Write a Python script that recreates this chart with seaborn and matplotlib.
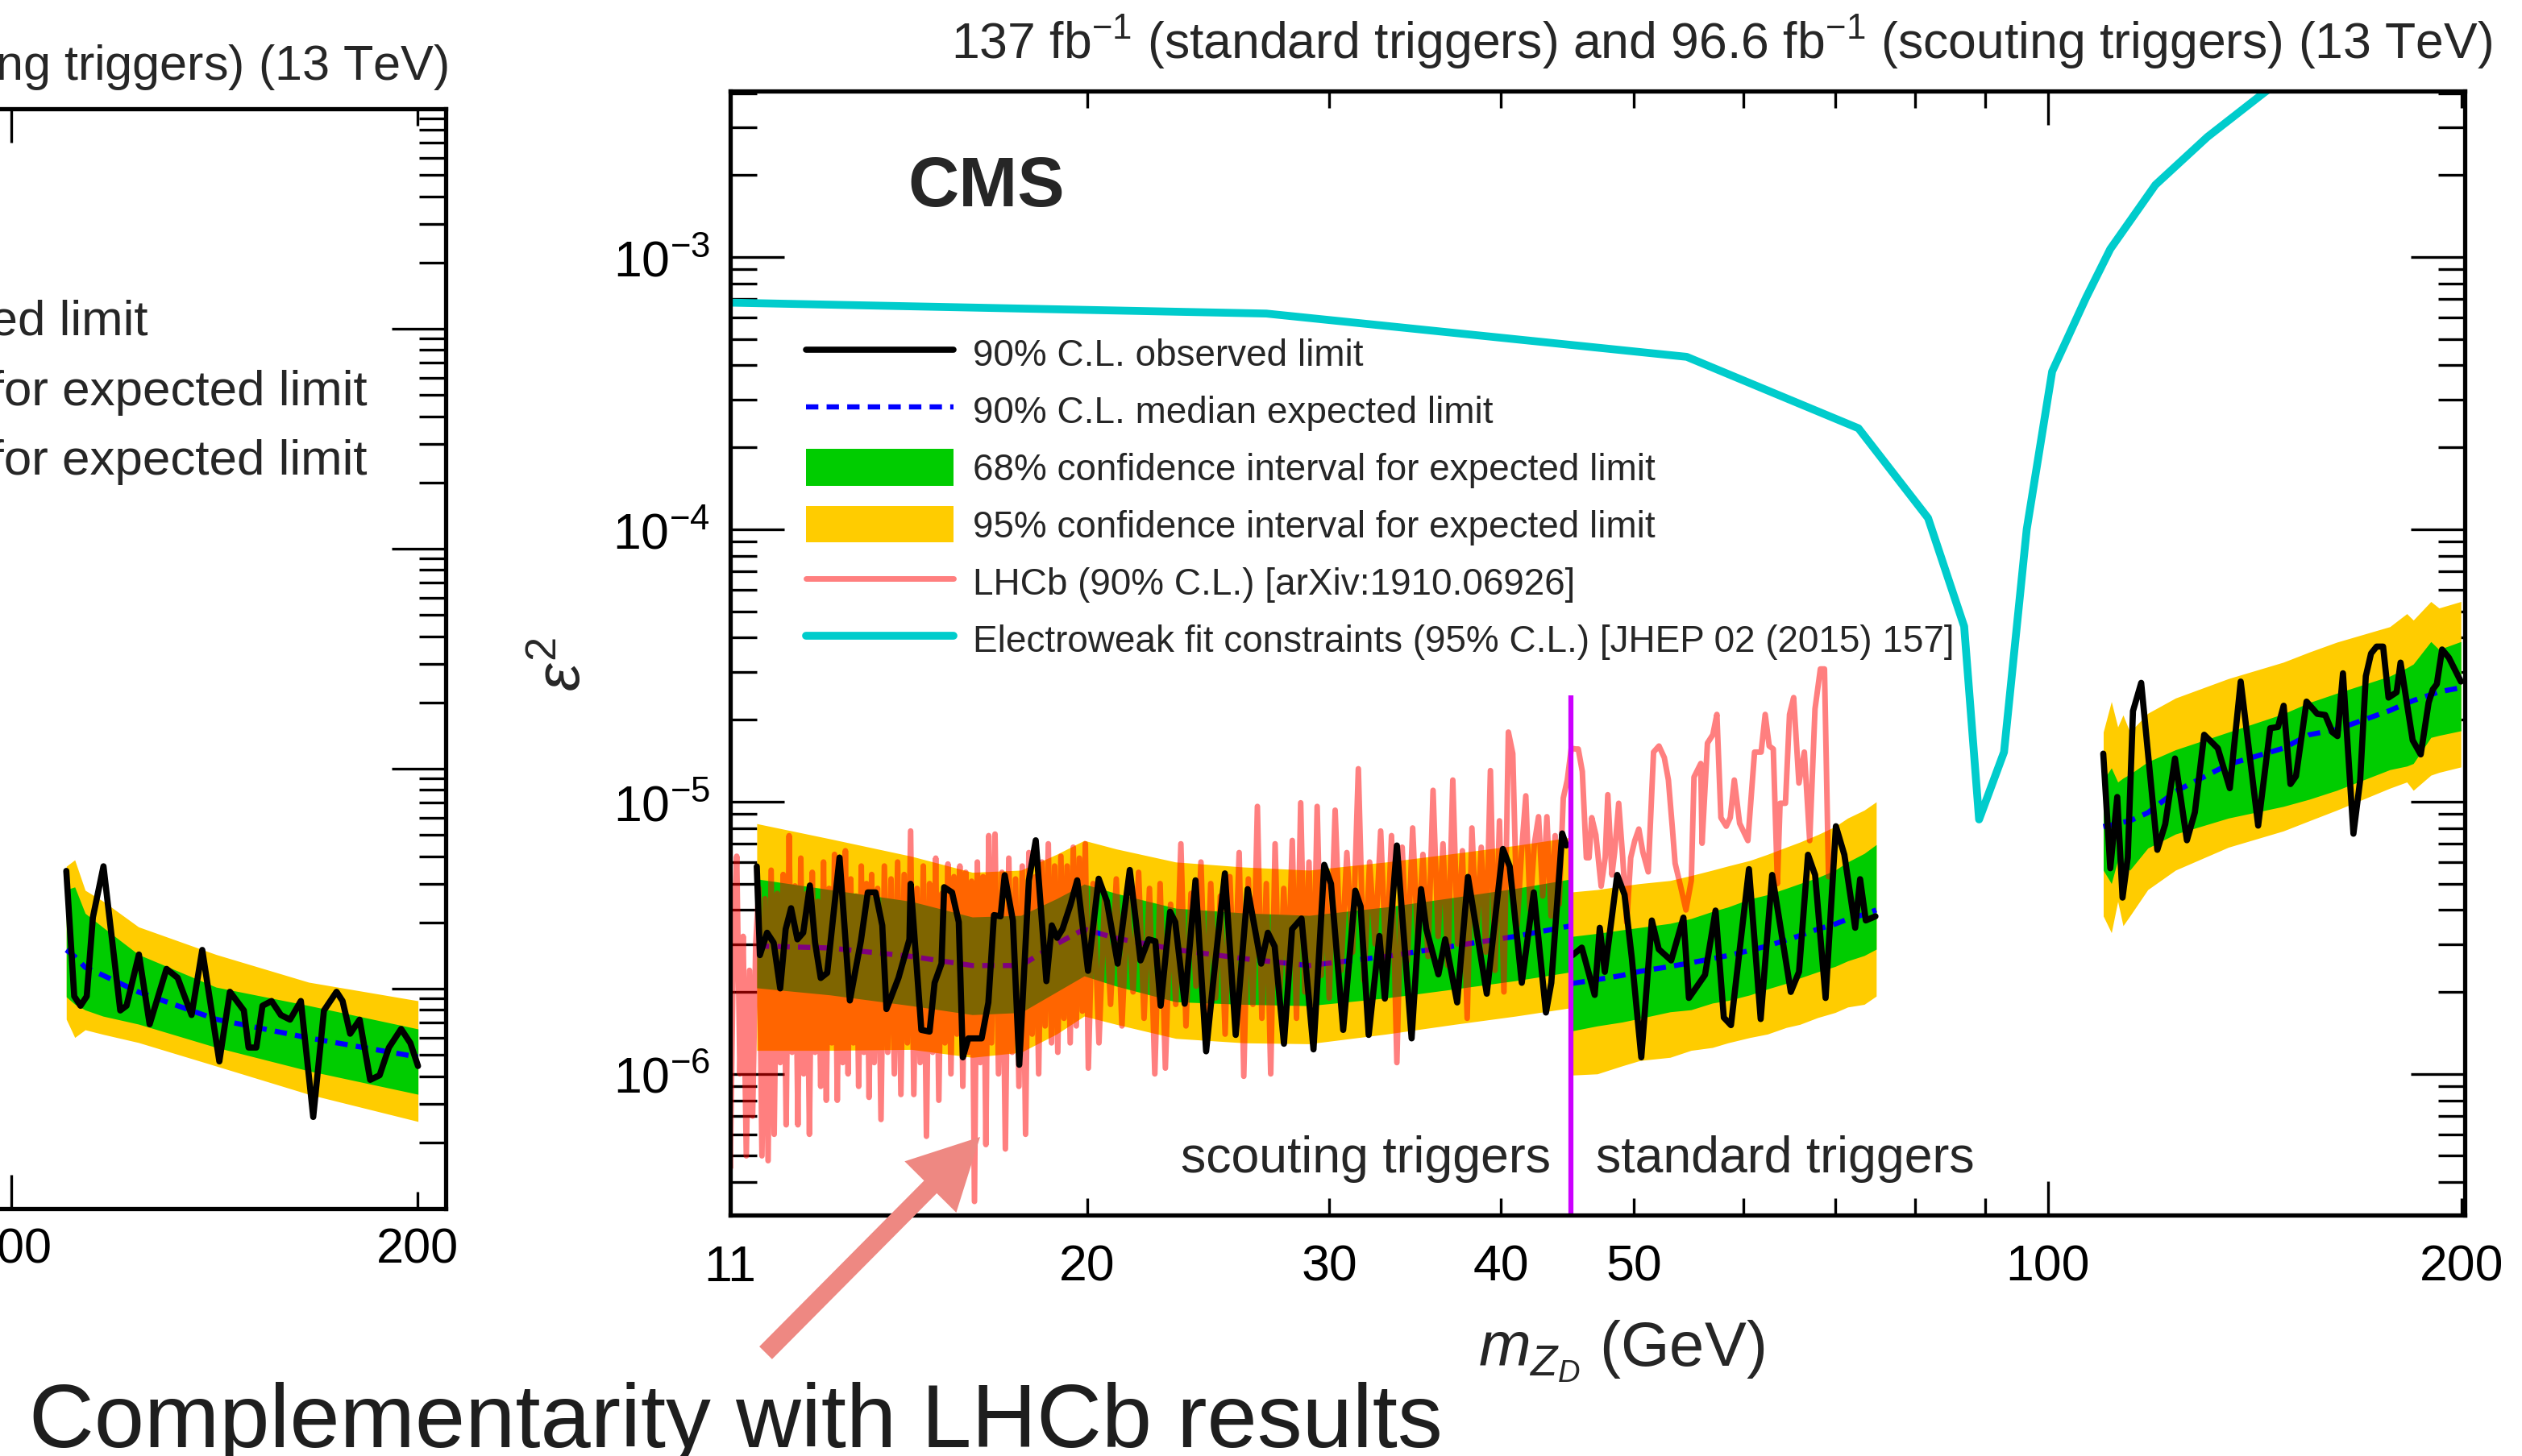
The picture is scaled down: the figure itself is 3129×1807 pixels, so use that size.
import numpy as np
import pandas as pd
import matplotlib
matplotlib.use("Agg")
import matplotlib.pyplot as plt
from matplotlib.patches import Patch, FancyArrowPatch
from matplotlib.ticker import FixedLocator, FuncFormatter, LogLocator, NullFormatter
import seaborn as sns

UNIT = 1e-6  # eps^2 lists of the main panel are given in units of 1e-6

# ---------------- main panel: scouting triggers (11.5-45 GeV) ----------------
scout_band_mass = [11.5, 13.0, 14.9, 16.5, 17.9, 19.0, 19.9, 21.0, 23.2, 26.0, 29.0, 33.0, 37.0, 41.0, 45.0]
scout_exp   = [2.95, 2.90, 2.70, 2.50, 2.50, 3.00, 3.40, 3.15, 2.86, 2.65, 2.50, 2.70, 2.95, 3.20, 3.50]
scout_g_lo  = [2.07, 1.95, 1.78, 1.65, 1.68, 2.00, 2.29, 2.10, 1.84, 1.80, 1.78, 1.90, 2.05, 2.20, 2.37]
scout_g_hi  = [5.20, 4.75, 4.30, 3.77, 3.82, 4.40, 4.98, 4.60, 4.06, 3.90, 3.82, 4.10, 4.45, 4.80, 5.20]
scout_y_lo  = [1.22, 1.22, 1.23, 1.15, 1.20, 1.40, 1.63, 1.52, 1.35, 1.30, 1.29, 1.40, 1.52, 1.63, 1.75]
scout_y_hi  = [8.30, 7.30, 6.30, 5.50, 5.60, 6.40, 7.20, 6.70, 6.00, 5.75, 5.60, 6.00, 6.45, 6.90, 7.40]

scout_obs_mass = [11.50, 11.56, 11.70, 11.83, 11.96, 12.07, 12.18, 12.31, 12.43, 12.57, 12.68, 12.80,
                  12.94, 13.21, 13.44, 13.69, 13.85, 14.03, 14.19, 14.29, 14.58, 14.85, 14.88, 15.15,
                  15.36, 15.49, 15.67, 15.74, 15.95, 16.13, 16.24, 16.39, 16.76, 16.95, 17.11, 17.30,
                  17.42, 17.66, 17.85, 18.14, 18.35, 18.68, 18.85, 19.02, 19.19, 19.45, 19.67, 20.03,
                  20.39, 20.67, 21.05, 21.48, 21.87, 22.17, 22.42, 22.62, 22.98, 23.18, 23.55, 23.98,
                  24.41, 24.74, 25.19, 25.65, 26.17, 26.77, 27.07, 27.38, 27.81, 28.19, 28.64, 29.22,
                  29.75, 30.09, 30.71, 31.34, 31.62, 32.05, 32.63, 32.93, 33.60, 34.44, 34.99, 35.30,
                  36.02, 36.43, 37.17, 37.85, 39.06, 40.13, 40.59, 41.42, 42.26, 43.13, 43.52, 44.32,
                  44.62]
scout_obs = [5.78, 2.73, 3.30, 3.03, 2.06, 3.40, 4.06, 3.12, 3.30, 4.92, 3.03, 2.25,
             2.35, 6.23, 1.86, 3.07, 4.64, 4.64, 3.51, 1.73, 2.25, 3.12, 4.99, 1.45,
             1.43, 2.16, 2.54, 4.85, 4.64, 3.61, 1.15, 1.35, 1.35, 1.83, 3.83, 3.79,
             5.37, 3.66, 1.08, 5.14, 7.21, 2.19, 3.51, 3.16, 3.40, 4.18, 5.14, 2.39,
             5.21, 4.31, 2.54, 5.61, 2.61, 3.12, 3.07, 1.78, 3.94, 3.61, 1.81, 5.14,
             1.21, 2.35, 5.45, 1.39, 4.77, 2.54, 3.30, 2.94, 1.29, 3.40, 3.72, 1.23,
             5.86, 4.99, 1.45, 4.71, 4.12, 1.39, 3.21, 1.89, 6.90, 1.35, 4.77, 3.40,
             2.32, 3.12, 1.83, 5.29, 1.97, 6.70, 5.78, 2.16, 4.64, 1.68, 2.16, 7.64,
             6.90]

# ---------------- main panel: standard triggers (45-75 GeV) ----------------
std_band_mass = [45.1, 47.0, 49.0, 50.5, 53.1, 55.0, 57.0, 58.5, 60.7, 62.5, 64.5, 66.0, 68.0, 70.0, 71.5, 73.5, 75.0]
std_exp  = [2.15, 2.22, 2.30, 2.38, 2.48, 2.56, 2.65, 2.72, 2.84, 2.95, 3.10, 3.22, 3.40, 3.55, 3.70, 3.85, 4.00]
std_g_lo = [1.44, 1.50, 1.55, 1.60, 1.69, 1.72, 1.82, 1.86, 1.95, 2.05, 2.15, 2.25, 2.37, 2.48, 2.60, 2.72, 2.87]
std_g_hi = [3.20, 3.28, 3.38, 3.45, 3.57, 3.72, 3.95, 4.10, 4.39, 4.55, 4.80, 5.00, 5.26, 5.60, 6.00, 6.45, 6.95]
std_y_lo = [0.99, 1.00, 1.07, 1.12, 1.15, 1.22, 1.25, 1.30, 1.36, 1.40, 1.48, 1.52, 1.61, 1.68, 1.76, 1.80, 1.93]
std_y_hi = [4.66, 4.75, 4.90, 5.00, 5.13, 5.35, 5.60, 5.80, 6.08, 6.40, 6.80, 7.10, 7.56, 8.10, 8.70, 9.30, 9.98]

std_obs_mass = [45.1, 45.8, 46.8, 47.2, 47.6, 48.6, 49.2, 49.8, 50.6, 51.5, 52.1, 53.2, 54.3, 54.8, 56.3, 57.3,
                58.1, 58.8, 60.6, 61.8, 63.0, 65.0, 65.9, 66.9, 67.7, 68.9, 70.1, 71.1, 72.4, 73.0, 73.7, 74.9]
std_obs = [2.73, 2.91, 1.95, 3.44, 2.37, 5.38, 4.55, 2.67, 1.15, 3.66, 2.87, 2.61, 3.75, 1.90, 2.31, 3.98,
           1.61, 1.51, 5.65, 1.59, 5.38, 2.00, 2.37, 6.38, 5.38, 1.90, 8.12, 6.38, 3.44, 5.19, 3.66, 3.79]

# ---------------- main panel: standard triggers (110-200 GeV) ----------------
high_band_mass = [109.7, 111.2, 112.4, 113.4, 114.7, 118.2, 123.8, 135.3, 148.3, 154.9, 162.2, 177.3,
                  182.4, 184.4, 189.9, 192.5, 199.7]
high_exp  = [8.1, 8.2, 8.3, 8.4, 8.5, 9.1, 10.9, 13.7, 15.7, 17.6, 18.4, 21.6, 23.0, 23.5, 24.7, 25.3, 26.2]
high_g_lo = [5.6, 5.0, 6.1, 5.8, 5.6, 6.75, 7.6, 8.7, 9.6, 10.2, 11.0, 13.1, 13.5, 13.8, 17.2, 17.5, 18.2]
high_g_hi = [12.0, 13.3, 11.8, 12.2, 12.6, 14.0, 15.5, 18.0, 21.0, 23.1, 25.0, 28.9, 31.0, 32.0, 38.7, 36.2, 38.7]
high_y_lo = [3.8, 3.3, 4.3, 3.5, 3.8, 4.75, 5.6, 6.8, 7.8, 8.5, 9.3, 11.2, 11.8, 11.0, 12.5, 12.8, 13.4]
high_y_hi = [18.0, 23.3, 18.8, 20.8, 18.0, 21.1, 24.0, 28.3, 32.5, 35.4, 38.5, 43.9, 49.0, 46.4, 54.3, 51.4, 54.3]

high_obs_mass = [109.7, 111.0, 112.3, 113.3, 114.3, 115.3, 116.9, 120.1, 121.7, 123.7, 126.2, 127.9, 129.9,
                 132.9, 135.6, 138.1, 142.2, 145.1, 147.0, 148.4, 150.1, 151.5, 154.2, 157.0, 159.1, 161.0,
                 162.4, 163.9, 166.8, 168.7, 170.3, 171.8, 173.4, 175.3, 176.9, 179.3, 180.5, 184.2, 186.7,
                 189.2, 190.5, 191.8, 193.5, 195.7, 199.7]
high_obs = [15.0, 5.69, 10.4, 4.44, 6.23, 21.5, 27.3, 6.65, 8.26, 14.4, 7.21, 9.14, 17.6,
            15.7, 11.2, 27.6, 8.16, 18.6, 18.8, 22.5, 11.6, 12.4, 23.3, 21.0, 20.8, 18.0,
            17.4, 29.6, 7.62, 12.0, 28.9, 35.0, 37.1, 37.1, 24.1, 25.2, 32.4, 16.8, 14.9,
            23.1, 25.8, 27.0, 36.2, 33.8, 27.6]

# ---------------- LHCb 90% CL limit ----------------
lhcb_mass = [10.95, 11.00, 11.06, 11.12, 11.18, 11.24, 11.30, 11.36, 11.42, 11.48,
             11.54, 11.60, 11.66, 11.72, 11.78, 11.84, 11.90, 11.96, 12.02, 12.08, 12.14, 12.20,
             12.26, 12.32, 12.38, 12.44, 12.50, 12.56, 12.62, 12.68, 12.74, 12.80, 12.86, 12.92,
             12.98, 13.04, 13.10, 13.16, 13.22, 13.28, 13.34, 13.40, 13.46, 13.52, 13.58, 13.64,
             13.70, 13.76, 13.82, 13.88, 13.94, 14.00,
             14.08, 14.16, 14.24, 14.32, 14.40, 14.48, 14.56, 14.64, 14.72, 14.80, 14.88, 14.96,
             15.04, 15.12, 15.20, 15.28, 15.36, 15.44, 15.52, 15.60, 15.68, 15.76, 15.84, 15.92,
             16.00, 16.08, 16.16, 16.24, 16.32, 16.40, 16.48, 16.56, 16.64, 16.72, 16.80, 16.88,
             16.96, 17.04,
             17.14, 17.24, 17.34, 17.44, 17.54, 17.64, 17.74, 17.84, 17.94, 18.04, 18.14, 18.24,
             18.34, 18.44, 18.54, 18.64, 18.74, 18.84, 18.94, 19.04, 19.14, 19.24, 19.34, 19.44,
             19.54, 19.64, 19.74, 19.84, 19.94, 20.04,
             20.2, 20.4, 20.6, 20.8, 21.0, 21.2, 21.4, 21.6, 21.8, 22.0, 22.2, 22.4, 22.6, 22.8,
             23.0, 23.2, 23.4, 23.6, 23.8, 24.0, 24.2, 24.4, 24.6, 24.8, 25.0, 25.2, 25.4, 25.6,
             25.8, 26.0, 26.2, 26.4, 26.6, 26.8, 27.0, 27.2, 27.4, 27.6, 27.8, 28.0, 28.2, 28.4,
             28.6, 28.8, 29.0, 29.2, 29.4, 29.6, 29.8, 30.0,
             30.3, 30.6, 30.9, 31.2, 31.5, 31.8, 32.1, 32.4, 32.7, 33.0, 33.3, 33.6, 33.9, 34.2,
             34.5, 34.8, 35.1, 35.4, 35.7, 36.0, 36.3, 36.6, 36.9, 37.2, 37.5, 37.8, 38.1, 38.4,
             38.7, 39.0, 39.3, 39.6, 39.9, 40.2, 40.5, 40.8, 41.1, 41.4, 41.7, 42.0, 42.3, 42.6,
             42.9, 43.2, 43.5, 43.8, 44.1, 44.4, 44.7,
             45.00, 45.33, 45.53, 45.84, 46.15, 46.36, 46.57, 46.89, 47.31, 47.63, 47.84, 48.17,
             48.39, 48.72, 49.05, 49.38, 49.71, 50.05, 50.39, 50.73, 51.19, 51.65, 52.12, 52.59,
             52.95, 53.31, 53.55, 54.04, 54.53, 55.02, 55.27, 55.90, 56.02, 56.53, 57.04, 57.43,
             57.82, 58.34, 58.73, 59.13, 59.66, 60.49, 61.17, 61.85, 62.27, 62.69, 63.12, 63.56,
             63.84, 64.42, 64.86, 65.31, 65.89, 66.49, 67.09, 67.69, 68.30, 68.77, 69.24, 69.55]
lhcb_eps2 = [1.6, 0.45, 3.0, 6.3, 1.0, 3.2, 0.5, 2.4, 0.7, 3.0,
             4.8, 0.5, 4.4, 0.48, 5.6, 0.6, 4.6, 1.1, 5.4, 0.65, 7.5, 1.2,
             4.9, 0.65, 6.2, 1.0, 4.6, 0.6, 5.5, 1.2, 4.3, 0.9, 6.0, 0.8,
             4.8, 1.3, 6.4, 0.8, 4.6, 1.1, 6.6, 1.0, 5.2, 1.3, 4.5, 0.9,
             5.8, 1.2, 5.0, 0.82, 5.4, 1.1,
             4.8, 0.68, 5.8, 1.2, 5.2, 1.0, 6.0, 0.84, 5.4, 1.3, 7.8, 0.84,
             4.8, 1.1, 5.8, 0.59, 5.0, 1.2, 6.2, 0.8, 4.6, 1.3, 5.9, 1.0,
             5.3, 1.4, 5.8, 0.9, 5.5, 1.2, 5.1, 0.34, 6.0, 1.1, 5.3, 0.55,
             7.5, 1.3,
             7.6, 1.0, 5.5, 0.53, 6.2, 1.2, 5.2, 0.9, 5.8, 0.6, 6.5, 1.4,
             5.3, 1.0, 6.0, 1.5, 7.0, 1.3, 5.8, 1.2, 6.3, 1.6, 5.8, 1.3,
             6.8, 1.5, 6.2, 1.7, 7.0, 1.05,
             5.0, 1.3, 4.6, 1.8, 5.2, 1.5, 4.4, 2.0, 5.5, 1.6, 4.8, 1.0, 5.0, 1.05,
             4.2, 1.8, 7.0, 1.5, 4.6, 2.1, 6.0, 1.6, 5.0, 1.9, 4.5, 1.4, 5.3, 2.0,
             6.5, 0.98, 5.2, 1.8, 9.6, 1.6, 5.0, 1.0, 7.0, 1.8, 4.8, 2.2, 7.2, 1.6,
             9.9, 2.0, 6.0, 1.7, 9.6, 2.3, 5.5, 1.9,
             9.3, 2.4, 6.5, 2.8, 13.2, 2.2, 6.0, 3.0, 7.8, 2.5, 7.5, 1.1, 6.8, 2.6,
             8.0, 3.0, 6.4, 2.7, 11.0, 3.2, 7.0, 2.5, 12.0, 3.0, 6.6, 1.6, 8.0, 3.2,
             6.8, 2.8, 13.0, 2.4, 8.5, 2.0, 18.0, 15.0, 3.5, 6.5, 10.5, 4.0, 7.0, 8.8,
             4.5, 8.8, 3.8, 7.5, 4.2, 10.3, 12.0,
             15.7, 15.6, 15.6, 12.9, 6.22, 6.22, 8.73, 7.55, 4.89, 6.22, 10.6, 5.38,
             6.53, 9.86, 6.22, 3.6, 6.22, 7.19, 7.93, 6.53, 5.52, 15.2, 16.0, 14.5,
             12.0, 7.93, 5.93, 4.89, 4.0, 5.13, 12.3, 13.8, 7.03, 16.4, 17.6, 20.9,
             8.73, 8.12, 8.73, 12.0, 8.32, 7.19, 15.2, 15.2, 20.9, 16.0, 15.6, 5.0,
             9.86, 9.86, 20.9, 24.1, 11.7, 15.2, 7.19, 21.9, 30.7, 30.7, 5.3, 5.65]

# ---------------- electroweak fit constraint ----------------
ew_mass = [11.0, 27.0, 54.6, 72.8, 81.8, 86.9, 89.1, 92.9, 96.5, 100.7, 106.6, 111.0, 119.7, 130.6, 143.5, 160.0]
ew_eps2 = [6.8e-4, 6.2e-4, 4.3e-4, 2.35e-4, 1.1e-4, 4.4e-5, 8.6e-6, 1.52e-5, 1.0e-4, 3.8e-4,
           7.1e-4, 1.07e-3, 1.84e-3, 2.76e-3, 4.0e-3, 6.0e-3]

# ---------------- second (left) panel, 110-200 GeV ----------------
left_band_mass = [109.9, 111.5, 113.5, 117.0, 124.3, 141.9, 166.2, 200.3]
left_y_hi = [0.360, 0.385, 0.280, 0.250, 0.191, 0.143, 0.107, 0.0881]
left_g_hi = [0.282, 0.290, 0.220, 0.190, 0.143, 0.1016, 0.0838, 0.0656]
left_exp  = [0.150, 0.140, 0.125, 0.115, 0.0966, 0.0726, 0.0597, 0.0489]
left_g_lo = [0.0918, 0.085, 0.080, 0.075, 0.069, 0.0541, 0.0423, 0.0331]
left_y_lo = [0.0726, 0.060, 0.065, 0.062, 0.0569, 0.0445, 0.0331, 0.0249]
left_obs_mass = [109.9, 111.4, 112.6, 113.8, 115.0, 117.1, 120.5, 121.8, 124.4, 126.7, 130.4, 132.9,
                 136.1, 138.6, 142.7, 145.3, 148.8, 150.0, 152.0, 153.6, 156.0, 158.5, 161.0, 164.0,
                 167.5, 170.6, 174.3, 176.1, 178.4, 181.3, 184.6, 187.6, 190.6, 194.6, 197.7, 200.3]
left_obs = [0.343, 0.0923, 0.0836, 0.0923, 0.211, 0.360, 0.0796, 0.0836, 0.143, 0.0689, 0.123, 0.112,
            0.0759, 0.150, 0.0467, 0.0968, 0.0796, 0.054, 0.054, 0.0836, 0.0879, 0.0759, 0.0723, 0.0879,
            0.0261, 0.0796, 0.0968, 0.0879, 0.0624, 0.0723, 0.0385, 0.0404, 0.054, 0.0656, 0.0566, 0.0445]

x_major_ticks = [100]
x_minor_ticks = [11, 20, 30, 40, 50, 60, 70, 80, 90, 200]
main_x_labels = {11, 20, 30, 40, 50, 100, 200}
left_x_labels = {100, 200}

legend_labels = ["90% C.L. observed limit",
                 "90% C.L. median expected limit",
                 "68% confidence interval for expected limit",
                 "95% confidence interval for expected limit",
                 "LHCb (90% C.L.) [arXiv:1910.06926]",
                 "Electroweak fit constraints (95% C.L.) [JHEP 02 (2015) 157]"]
lumi_text = r"137 fb$^{-1}$ (standard triggers) and 96.6 fb$^{-1}$ (scouting triggers) (13 TeV)"

GREEN, YELLOW = "#00CC00", "#FFCC00"
BLUE, CYAN, MAGENTA = "#0000FF", "#00CCCC", "#CC00FF"

sns.set_theme(style="ticks")
plt.rcParams["font.family"] = ["Liberation Sans", "DejaVu Sans"]
plt.rcParams["mathtext.fontset"] = "custom"
plt.rcParams["mathtext.rm"] = "Liberation Sans"
plt.rcParams["mathtext.it"] = "Liberation Sans:italic"
plt.rcParams["mathtext.bf"] = "Liberation Sans:bold"

W, H = 3129, 1808
fig = plt.figure(figsize=(W / 100, H / 100), dpi=100)
fig.patch.set_facecolor("white")


def rect(x0, y0, x1, y1):
    return [x0 / W, 1 - y1 / H, (x1 - x0) / W, (y1 - y0) / H]


def draw_line(ax, x, y, scale=1.0, **kw):
    df = pd.DataFrame({"mass": np.asarray(x, float), "eps2": np.asarray(y, float) * scale})
    sns.lineplot(data=df, x="mass", y="eps2", ax=ax, estimator=None, sort=False, legend=False, **kw)
    return ax.lines[-1]


def draw_band(ax, x, lo, hi, color, z, scale=1.0):
    ax.fill_between(x, np.asarray(lo) * scale, np.asarray(hi) * scale, color=color, lw=0, zorder=z)


def style_axes(ax, xlim, ylim, labelsize, xpad, ypad, xlabels, ylabels=True):
    ax.set_xscale("log")
    ax.set_yscale("log")
    ax.set_xlim(*xlim)
    ax.set_ylim(*ylim)
    ax.set_xlabel("")
    ax.set_ylabel("")
    ax.set_facecolor("white")
    for s in ax.spines.values():
        s.set_linewidth(3.8)
        s.set_color("black")
        s.set_zorder(8)
    fmt = FuncFormatter(lambda v, p: f"{v:g}" if int(round(v)) in xlabels else "")
    ax.xaxis.set_major_locator(FixedLocator(x_major_ticks))
    ax.xaxis.set_minor_locator(FixedLocator(x_minor_ticks))
    ax.xaxis.set_major_formatter(fmt)
    ax.xaxis.set_minor_formatter(fmt)
    ax.yaxis.set_major_locator(LogLocator(base=10, numticks=30))
    ax.yaxis.set_minor_locator(LogLocator(base=10, subs=np.arange(2, 10), numticks=30))
    ax.yaxis.set_minor_formatter(NullFormatter())
    ax.tick_params(which="both", direction="in", top=True, right=True, width=2.4,
                   color="black", labelcolor="black")
    ax.tick_params(axis="x", which="major", length=30, labelsize=labelsize, pad=xpad)
    ax.tick_params(axis="x", which="minor", length=15, labelsize=labelsize, pad=xpad)
    ax.tick_params(axis="y", which="major", length=48, labelsize=labelsize, pad=ypad,
                   labelleft=ylabels)
    ax.tick_params(axis="y", which="minor", length=24)


# ======================= main panel =======================
ax = fig.add_axes(rect(906, 114, 3058, 1509))
ax.set_xscale("log")
ax.set_yscale("log")

for m, ylo, yhi, glo, ghi in [
        (scout_band_mass, scout_y_lo, scout_y_hi, scout_g_lo, scout_g_hi),
        (std_band_mass, std_y_lo, std_y_hi, std_g_lo, std_g_hi),
        (high_band_mass, high_y_lo, high_y_hi, high_g_lo, high_g_hi)]:
    draw_band(ax, m, ylo, yhi, YELLOW, 1, UNIT)
    draw_band(ax, m, glo, ghi, GREEN, 2, UNIT)

exp_style = dict(color=BLUE, lw=4.6, linestyle=(0, (2.4, 1.6)), zorder=3)
exp_line = draw_line(ax, scout_band_mass, scout_exp, UNIT, **exp_style)
draw_line(ax, std_band_mass, std_exp, UNIT, **exp_style)
draw_line(ax, high_band_mass, high_exp, UNIT, **exp_style)

lhcb_line = draw_line(ax, lhcb_mass, lhcb_eps2, UNIT, color="#FF0000", alpha=0.5, lw=5.0, zorder=4)

obs_style = dict(color="black", lw=5.5, zorder=5)
obs_line = draw_line(ax, scout_obs_mass, scout_obs, UNIT, **obs_style)
draw_line(ax, std_obs_mass, std_obs, UNIT, **obs_style)
draw_line(ax, high_obs_mass, high_obs, UNIT, **obs_style)

ew_line = draw_line(ax, ew_mass, ew_eps2, 1.0, color=CYAN, lw=7.0, zorder=6)

ax.vlines(45.0, 1e-7, 2.46e-5, color=MAGENTA, lw=4.5, zorder=5)

style_axes(ax, (11, 201), (3.03e-7, 4.07e-3), 45, 25, 18, main_x_labels)

handles = [obs_line, exp_line, Patch(facecolor=GREEN, edgecolor="none"),
           Patch(facecolor=YELLOW, edgecolor="none"), lhcb_line, ew_line]
ax.legend(handles, legend_labels, loc="upper left", bbox_to_anchor=(1000 / W, 1 - 416 / H),
          bbox_transform=fig.transFigure, frameon=False, fontsize=33, handlelength=4.0,
          handleheight=1.16, handletextpad=0.52, labelspacing=0.49, borderpad=0, borderaxespad=0)

ax.text(43.5, 4.39e-7, "scouting triggers", ha="right", va="baseline", fontsize=45, zorder=7)
ax.text(46.9, 4.39e-7, "standard triggers", ha="left", va="baseline", fontsize=45, zorder=7)

fig.text(1126 / W, 1 - 256 / H, "CMS", fontsize=63, fontweight="bold", ha="left", va="baseline")
fig.text(3092 / W, 1 - 72 / H, lumi_text, fontsize=45, ha="right", va="baseline")
fig.text(1834 / W, 1 - 1695 / H, r"$m_{Z_{D}}$ (GeV)", fontsize=56, ha="left", va="baseline")
fig.text(698 / W, 1 - 824 / H, r"$\varepsilon^{2}$", fontsize=56, rotation=90, ha="center", va="center")

# ======================= second panel, partly outside the slide =======================
axl = fig.add_axes(rect(-1591, 136, 553, 1501))
axl.set_xscale("log")
axl.set_yscale("log")
draw_band(axl, left_band_mass, left_y_lo, left_y_hi, YELLOW, 1)
draw_band(axl, left_band_mass, left_g_lo, left_g_hi, GREEN, 2)
l_exp = draw_line(axl, left_band_mass, left_exp, 1.0, **exp_style)
l_obs = draw_line(axl, left_obs_mass, left_obs, 1.0, **obs_style)
style_axes(axl, (11, 210), (1e-2, 1e3), 44, 16, 18, left_x_labels, ylabels=False)
axl.legend([l_obs, l_exp, Patch(facecolor=GREEN, edgecolor="none"), Patch(facecolor=YELLOW, edgecolor="none")],
           legend_labels[:4], loc="upper left", bbox_to_anchor=(-904 / W, 1 - 281 / H),
           bbox_transform=fig.transFigure, frameon=False, fontsize=44.6, handlelength=3.0,
           handleheight=1.0, handletextpad=0.5, labelspacing=0.395, borderpad=0, borderaxespad=0)
fig.text(556 / W, 1 - 100 / H, lumi_text, fontsize=44, ha="right", va="baseline")

# ======================= slide caption and arrow =======================
fig.text(36 / W, 1 - 1796 / H, "Complementarity with LHCb results", fontsize=80.6,
         color="#1e1e1e", ha="left", va="baseline")
arrow = FancyArrowPatch((950 / W, 1 - 1680 / H), (1216 / W, 1 - 1412 / H), transform=fig.transFigure,
                        arrowstyle="simple,head_length=6.3,head_width=6.5,tail_width=1.6",
                        mutation_scale=10, color="#EE8882", lw=0, shrinkA=0, shrinkB=0, zorder=10)
fig.add_artist(arrow)

fig.savefig("out.png", dpi=100)
